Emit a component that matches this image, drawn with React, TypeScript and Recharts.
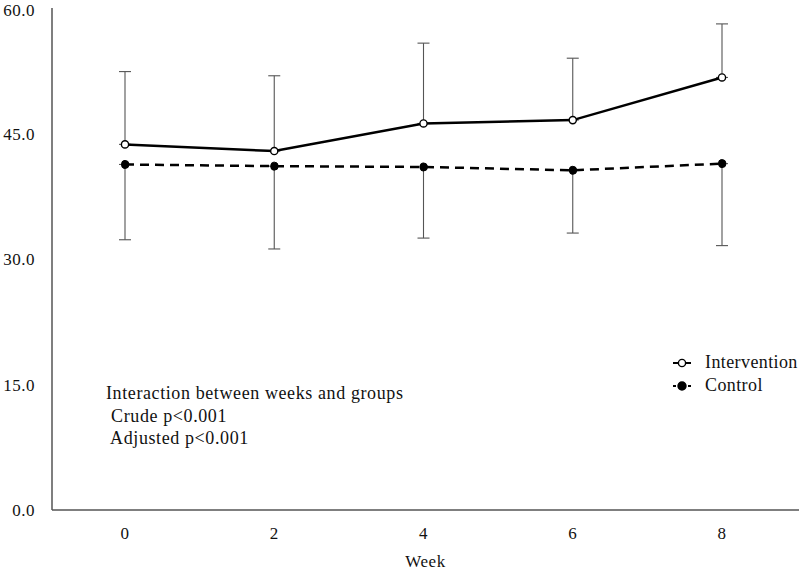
import React from "react";
import {
  LineChart,
  Line,
  XAxis,
  YAxis,
  ErrorBar,
  Legend,
} from "recharts";

const weeks = ["0", "2", "4", "6", "8"];
const intervention = [43.7, 42.9, 46.2, 46.6, 51.7];
const interventionErr = [8.7, 9.0, 9.6, 7.4, 6.4];
const control = [41.3, 41.1, 41.0, 40.6, 41.4];
const controlErr = [9.0, 9.9, 8.5, 7.5, 9.8];
const yTicks = [0, 15, 30, 45, 60];
const noteLines = [
  "Interaction between weeks and groups",
  " Crude p<0.001",
  " Adjusted p<0.001",
];

const data = weeks.map((w, i) => ({
  week: w,
  intervention: intervention[i],
  // upper bar only for intervention, lower bar only for control
  intErr: [0, interventionErr[i]],
  control: control[i],
  ctlErr: [controlErr[i], 0],
}));

const FONT = '"Liberation Serif", "Times New Roman", serif';
const tickStyle = { fill: "#111", fontSize: 17, fontFamily: FONT, letterSpacing: 0.5 };

function LegendBox() {
  const rows = [
    { label: "Intervention", fill: "#fff", dash: undefined },
    { label: "Control", fill: "#000", dash: "3 2" },
  ];
  return (
    <div style={{ fontFamily: FONT, fontSize: 18, letterSpacing: 0.4, color: "#111" }}>
      {rows.map((r) => (
        <div key={r.label} style={{ display: "flex", alignItems: "center", height: 23 }}>
          <svg width={34} height={14}>
            <line x1={2} y1={7} x2={20} y2={7} stroke="#000" strokeWidth={2} strokeDasharray={r.dash} />
            <circle cx={11} cy={7} r={r.fill === "#fff" ? 3.6 : 4} fill={r.fill} stroke="#000" strokeWidth={1.4} />
          </svg>
          <span>{r.label}</span>
        </div>
      ))}
    </div>
  );
}

export default function App() {
  return (
    <div style={{ position: "absolute", left: 0, top: 0, width: 800, height: 572, background: "#fff" }}>
      <LineChart
        width={800}
        height={572}
        data={data}
        margin={{ top: 8, right: 1, left: 0, bottom: 32 }}
      >
        <XAxis
          dataKey="week"
          padding={{ left: 73, right: 77 }}
          stroke="#555"
          strokeWidth={1.5}
          tickLine={false}
          tickSize={0}
          tickMargin={17}
          tick={tickStyle}
          label={{
            value: "Week",
            position: "bottom",
            offset: 15,
            style: { fill: "#111", fontSize: 17, fontFamily: FONT, letterSpacing: 0.5 },
          }}
        />
        <YAxis
          domain={[0, 60]}
          ticks={yTicks}
          width={52}
          stroke="#555"
          strokeWidth={1.5}
          tickLine={false}
          tickSize={0}
          tickMargin={17}
          tick={tickStyle}
          tickFormatter={(v: number) => v.toFixed(1)}
        />
        <Legend
          layout="vertical"
          align="center"
          verticalAlign="middle"
          content={() => <LegendBox />}
          wrapperStyle={{ left: 671, top: 351, width: 129 }}
        />
        <Line
          dataKey="intervention"
          stroke="#000"
          strokeWidth={2.5}
          dot={{ r: 3.6, fill: "#fff", stroke: "#000", strokeWidth: 1.4 }}
          isAnimationActive={false}
        >
          <ErrorBar dataKey="intErr" width={6} stroke="#555" strokeWidth={1.1} />
        </Line>
        <Line
          dataKey="control"
          stroke="#000"
          strokeWidth={2.5}
          strokeDasharray="9 6"
          dot={{ r: 4, fill: "#000", stroke: "#000", strokeWidth: 1 }}
          isAnimationActive={false}
        >
          <ErrorBar dataKey="ctlErr" width={6} stroke="#555" strokeWidth={1.1} />
        </Line>
      </LineChart>
      <div
        style={{
          position: "absolute",
          left: 106,
          top: 382,
          fontFamily: FONT,
          fontSize: 18,
          letterSpacing: 0.6,
          lineHeight: "22.5px",
          whiteSpace: "pre",
          color: "#111",
        }}
      >
        {noteLines.map((t) => (
          <div key={t}>{t}</div>
        ))}
      </div>
    </div>
  );
}
